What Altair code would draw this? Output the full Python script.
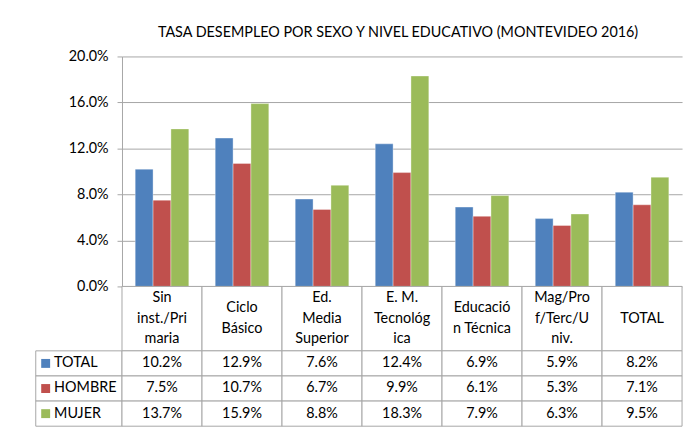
import altair as alt
import pandas as pd

title_text = "TASA DESEMPLEO POR SEXO Y NIVEL EDUCATIVO (MONTEVIDEO 2016)"
categories = ["Sin inst./Primaria", "Ciclo Básico", "Ed. Media Superior",
              "E. M. Tecnológica", "Educación Técnica", "Mag/Prof/Terc/Univ.", "TOTAL"]
header_labels = ["Sin\ninst./Pri\nmaria", "Ciclo\nBásico", "Ed.\nMedia\nSuperior",
                 "E. M.\nTecnológ\nica", "Educació\nn Técnica", "Mag/Pro\nf/Terc/U\nniv.", "TOTAL"]
series = ["TOTAL", "HOMBRE", "MUJER"]
total = [0.102, 0.129, 0.076, 0.124, 0.069, 0.059, 0.082]
hombre = [0.075, 0.107, 0.067, 0.099, 0.061, 0.053, 0.071]
mujer = [0.137, 0.159, 0.088, 0.183, 0.079, 0.063, 0.095]
colors = ["#4F81BD", "#C0504D", "#9BBB59"]
y_ticks = [0, 0.04, 0.08, 0.12, 0.16, 0.20]

rows = []
for s, vals in zip(series, [total, hombre, mujer]):
    for c, v in zip(categories, vals):
        rows.append({"cat": c, "serie": s, "value": v})
df = pd.DataFrame(rows)
hdr = pd.DataFrame({"cat": categories, "label": header_labels})
leg = pd.DataFrame({"serie": series})

FONT = "Lato"
GRID = "#A6A6A6"
FS = 14.5
LH = 20.5
W, H, LW, HH, TH = 565, 232, 87, 65, 76

color_scale = alt.Scale(domain=series, range=colors)
flat = alt.Scale(paddingInner=0, paddingOuter=0)

bars = alt.Chart(df).mark_bar(stroke="white", strokeWidth=0.6, strokeOpacity=0.6).encode(
    x=alt.X("cat:N", sort=categories, axis=None,
            scale=alt.Scale(paddingInner=0.33, paddingOuter=0.165)),
    xOffset=alt.XOffset("serie:N", sort=series, scale=flat),
    y=alt.Y("value:Q", scale=alt.Scale(domain=[0, 0.2]),
            axis=alt.Axis(values=y_ticks, format=".1%", title=None, domain=True,
                          domainColor=GRID, grid=True, gridColor=GRID, tickColor=GRID,
                          tickSize=5, labelPadding=9, labelFontSize=FS, labelFont=FONT,
                          labelColor="black")),
    color=alt.Color("serie:N", scale=color_scale, legend=None),
).properties(width=W, height=H,
             title=alt.TitleParams(title_text, font=FONT, fontSize=14.5, fontWeight="normal",
                                   color="black", offset=8, anchor="middle", dx=-4))

hdr_base = alt.Chart(hdr).encode(x=alt.X("cat:N", sort=categories, axis=None, scale=flat))
nl = "length(split(datum.label, '\\n'))"
hdr_layers = [hdr_base.mark_rect(fill="white", stroke=GRID, strokeWidth=1)]
for n in (1, 2, 3):
    hdr_layers.append(
        hdr_base.transform_filter(f"{nl} == {n}").mark_text(
            lineBreak="\n", font=FONT, fontSize=FS, lineHeight=LH, baseline="middle",
            color="black", dy=-(n - 1) * LH / 2).encode(text="label:N")
    )
hdr_chart = alt.layer(*hdr_layers).properties(width=W, height=HH)

tbl_base = alt.Chart(df).encode(
    x=alt.X("cat:N", sort=categories, axis=None, scale=flat),
    y=alt.Y("serie:N", sort=series, axis=None, scale=flat),
)
tbl = alt.layer(
    tbl_base.mark_rect(fill="white", stroke=GRID, strokeWidth=1),
    tbl_base.mark_text(font=FONT, fontSize=FS, baseline="middle", color="black").encode(
        text=alt.Text("value:Q", format=".1%")),
).properties(width=W, height=TH)

leg_base = alt.Chart(leg).encode(y=alt.Y("serie:N", sort=series, axis=None, scale=flat))
leg_chart = alt.layer(
    leg_base.mark_rect(fill="white", stroke=GRID, strokeWidth=1),
    leg_base.mark_point(shape="square", filled=True, size=81, opacity=1).encode(
        x=alt.value(10), color=alt.Color("serie:N", scale=color_scale, legend=None)),
    leg_base.mark_text(align="left", font=FONT, fontSize=FS, baseline="middle",
                       color="black").encode(x=alt.value(18.5), text="serie:N"),
).properties(width=LW, height=TH)

blank1 = alt.Chart(leg).mark_text(text="").encode(x=alt.value(0)).properties(width=LW, height=H)
blank2 = alt.Chart(leg).mark_text(text="").encode(x=alt.value(0)).properties(width=LW, height=HH)

chart = alt.concat(
    blank1, bars, blank2, hdr_chart, leg_chart, tbl,
    columns=2, spacing=0, bounds="flush", align="each",
).resolve_scale(x="independent", y="independent").configure_view(stroke=None).properties(
    padding={"left": 27, "top": 15, "right": 5, "bottom": 5},
    background="white",
)

chart.save("out.html", embed_options={"renderer": "svg", "actions": False})
